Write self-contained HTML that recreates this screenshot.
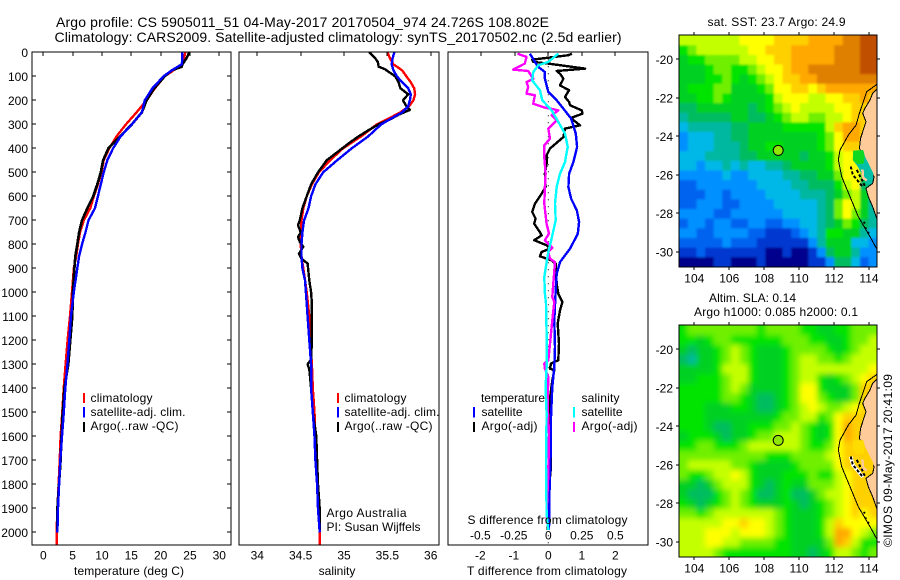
<!DOCTYPE html>
<html lang="en">
<head>
<meta charset="utf-8">
<title>Argo profile</title>
<style>
html,body{margin:0;padding:0;background:#fff;width:900px;height:580px;overflow:hidden}
svg{display:block;font-family:"Liberation Sans",sans-serif;font-size:12px;fill:#000}
text{fill:#000;stroke:none}
.frame{fill:none;stroke:#000;stroke-width:1;shape-rendering:crispEdges}
</style>
</head>
<body>
<svg id="chart" width="900" height="580" viewBox="0 0 900 580" xmlns="http://www.w3.org/2000/svg">
<defs>
<clipPath id="clipT"><rect x="32" y="52" width="199" height="493"/></clipPath>
<clipPath id="clipS"><rect x="239" y="52" width="200" height="493"/></clipPath>
<clipPath id="clipD"><rect x="448" y="52" width="200" height="493"/></clipPath>
<clipPath id="clipM1"><rect x="679" y="35" width="198" height="232"/></clipPath>
<clipPath id="clipM2"><rect x="679" y="325" width="198" height="232"/></clipPath>
<filter id="blur1" x="-5%" y="-5%" width="110%" height="110%"><feGaussianBlur stdDeviation="1"/></filter>
<filter id="blur2" x="-5%" y="-5%" width="110%" height="110%"><feGaussianBlur stdDeviation="3"/></filter>
</defs>

<text x="56" y="27" font-size="14" textLength="493">Argo profile: CS 5905011_51 04-May-2017 20170504_974 24.726S 108.802E</text>
<text x="54.5" y="42" font-size="14" textLength="567">Climatology: CARS2009. Satellite-adjusted climatology: synTS_20170502.nc (2.5d earlier)</text>

<g id="panelT" clip-path="url(#clipT)"></g>
<g id="panelS" clip-path="url(#clipS)"></g>
<g id="panelD" clip-path="url(#clipD)"></g>
<g id="map1cells" clip-path="url(#clipM1)"></g>
<g id="map2cells" clip-path="url(#clipM2)"></g>

<rect class="frame" x="32" y="52" width="199" height="493"/>
<rect class="frame" x="239" y="52" width="200" height="493"/>
<rect class="frame" x="448" y="52" width="200" height="493"/>
<rect class="frame" x="679" y="35" width="198" height="232"/>
<rect class="frame" x="679" y="325" width="198" height="232"/>

<g id="ticks"></g>

<text x="129" y="575" text-anchor="middle" textLength="110">temperature (deg C)</text>
<text x="337" y="575" text-anchor="middle">salinity</text>
<text x="467.5" y="524" textLength="160">S difference from climatology</text>
<text x="467" y="575" textLength="160">T difference from climatology</text>

<g>
<rect x="83" y="393" width="2" height="10" fill="#f00"/>
<rect x="83" y="407" width="2" height="10.5" fill="#00f"/>
<rect x="83" y="422" width="2" height="10" fill="#000"/>
<text x="90.5" y="402" textLength="62">climatology</text>
<text x="90.5" y="416" textLength="95">satellite-adj. clim.</text>
<text x="90.5" y="430" textLength="88">Argo(..raw -QC)</text>
</g>
<g>
<rect x="337" y="393" width="2" height="10" fill="#f00"/>
<rect x="337" y="407" width="2" height="10.5" fill="#00f"/>
<rect x="337" y="422" width="2" height="10" fill="#000"/>
<text x="344.5" y="402" textLength="62">climatology</text>
<text x="344.5" y="416" textLength="95">satellite-adj. clim.</text>
<text x="344.5" y="430" textLength="88">Argo(..raw -QC)</text>
<text x="326.5" y="517" textLength="80">Argo Australia</text>
<text x="326.5" y="531" textLength="94">PI: Susan Wijffels</text>
</g>
<g>
<text x="481" y="402" textLength="64">temperature</text>
<text x="581.5" y="402" textLength="38">salinity</text>
<rect x="473" y="407" width="2" height="10.5" fill="#00f"/>
<rect x="473" y="422" width="2" height="10" fill="#000"/>
<rect x="573" y="407" width="2" height="10.5" fill="#0ff"/>
<rect x="573" y="422" width="2" height="10" fill="#f0f"/>
<text x="481.5" y="416" textLength="41">satellite</text>
<text x="481.5" y="430" textLength="56">Argo(-adj)</text>
<text x="581.5" y="416" textLength="41">satellite</text>
<text x="581.5" y="430" textLength="56">Argo(-adj)</text>
</g>

<text x="707.5" y="26" textLength="138">sat. SST: 23.7 Argo: 24.9</text>
<text x="709" y="302" textLength="87">Altim. SLA: 0.14</text>
<text x="694" y="316" textLength="164">Argo h1000: 0.085 h2000: 0.1</text>
<text transform="translate(892,547) rotate(-90)" textLength="173">©IMOS 09-May-2017 20:41:09</text>

<script>
// ---------- axis tick values ----------
const depthTicks = [0,100,200,300,400,500,600,700,800,900,1000,1100,1200,1300,1400,1500,1600,1700,1800,1900,2000];
const tempTicks = [0,5,10,15,20,25,30];
const salTicks = [34,34.5,35,35.5,36];
const diffTTicks = [-2,-1,0,1,2];
const diffSTicks = [-0.5,-0.25,0,0.25,0.5];
const lonTicks = [104,106,108,110,112,114];
const latTicks = [-20,-22,-24,-26,-28,-30];

// ---------- temperature profiles (depth m, deg C) ----------
const tempDepthClim = [0,25,50,75,100,150,200,250,300,350,400,450,500,550,600,650,700,750,800,850,900,1000,1100,1200,1300,1400,1500,1600,1700,1800,1900,2000,2054];
const tempClim = [24.2,24.0,23.7,22.2,20.7,19.0,17.6,15.9,14.1,12.5,11.25,10.3,9.9,9.3,8.6,8.0,6.9,6.25,5.9,5.6,5.2,4.9,4.55,4.15,3.8,3.47,3.24,2.95,2.8,2.6,2.4,2.27,2.3];
const tempDepthSat = [0,25,50,75,100,150,200,250,300,350,400,450,500,550,600,650,700,750,800,850,900,1000,1100,1200,1300,1400,1500,1600,1700,1800,1900,2000];
const tempSat = [23.7,23.7,23.6,21.9,20.5,18.6,17.3,16.8,15.1,13.2,11.9,10.9,10.3,9.8,9.3,8.8,7.7,7.2,6.6,6.1,5.8,5.2,4.7,4.43,4.1,3.75,3.5,3.18,2.9,2.7,2.5,2.4];
const tempDepthArgo = [0,25,50,60,75,100,150,200,250,300,350,400,450,500,550,600,650,700,750,800,850,900,1000,1100,1200,1300,1400,1500,1600,1700,1800,1900,1990];
const tempArgo = [24.9,24.4,23.7,23.6,21.9,20.7,18.9,17.6,16.8,15.1,13.1,11.1,10.2,9.8,9.2,8.5,7.5,6.6,6.1,5.8,5.45,5.3,5.05,4.95,4.6,4.26,3.6,3.3,3.1,2.95,2.67,2.4,2.4];

// ---------- salinity profiles (depth m, psu) ----------
const salDepthClim = [0,25,50,75,100,125,150,175,200,225,250,275,300,350,400,450,500,550,600,650,700,750,800,850,900,1000,1100,1200,1300,1400,1500,1600,1700,1800,1900,2000,2054];
const salClim = [35.50,35.53,35.57,35.67,35.72,35.77,35.81,35.82,35.80,35.75,35.65,35.52,35.38,35.20,34.99,34.84,34.71,34.63,34.57,34.53,34.51,34.50,34.50,34.51,34.53,34.57,34.60,34.61,34.63,34.64,34.66,34.67,34.69,34.70,34.72,34.72,34.72];
const salDepthSat = [0,25,50,75,100,125,150,175,200,225,250,275,300,350,400,450,500,550,600,650,700,750,800,850,900,950,1000,1100,1200,1300,1400,1500,1600,1700,1800,1900,2000];
const salSat = [35.58,35.56,35.55,35.57,35.61,35.67,35.74,35.77,35.76,35.74,35.67,35.55,35.43,35.28,35.09,34.92,34.76,34.67,34.62,34.59,34.54,34.52,34.51,34.51,34.52,34.55,34.56,34.58,34.60,34.62,34.62,34.64,34.66,34.67,34.69,34.70,34.72];
const salDepthArgo = [0,25,40,60,70,80,100,125,150,175,200,225,240,260,280,300,325,350,375,400,425,450,500,550,600,650,700,720,750,770,790,810,840,860,880,950,1000,1050,1100,1200,1280,1300,1320,1400,1500,1600,1700,1800,1900,1990];
const salArgo = [35.29,35.36,35.39,35.40,35.47,35.51,35.59,35.63,35.65,35.74,35.68,35.72,35.76,35.63,35.53,35.40,35.28,35.17,35.07,34.98,34.89,34.80,34.70,34.62,34.57,34.52,34.49,34.47,34.50,34.47,34.49,34.53,34.48,34.51,34.58,34.60,34.62,34.63,34.63,34.63,34.62,34.58,34.60,34.62,34.64,34.68,34.69,34.70,34.72,34.72];

// ---------- differences from climatology ----------
const diffTDepthSat = [6,40,61,82,110,165,200,235,276,339,394,457,506,561,610,658,707,756,818,874,922,992,1117,1228,1311,1394,1520,1631,1811,1990];
const diffTSat = [-.55,-.4,-.3,-.1,-.1,0,.25,.45,.68,.82,.86,.75,.62,.6,.68,.85,.92,.88,.65,.35,.25,.22,.18,.2,.18,.12,.08,.08,.04,.02];
const diffTDepthArgo = [6,12,31,40,47,68,78,89,110,138,158,186,207,221,242,256,272,283,304,318,353,401,429,464,506,561,589,631,665,693,714,749,763,783,804,818,832,850,867,881,964,1006,1040,1075,1130,1214,1283,1297,1318,1325,1367,1408,1478,1520,1590,1728,1797,1894,1990];
const diffTArgo = [.7,.6,-.48,-.45,0,1.1,.25,.35,.45,.35,.62,.5,.62,.65,1.0,1.02,.7,.75,.95,.5,.45,.05,-.05,-.05,-.1,-.08,-.2,-.4,-.48,-.38,-.42,-.25,-.2,-.42,-.05,.05,-.2,-.25,.1,.22,.25,.3,.42,.35,.28,.32,.3,.08,.05,.18,.12,.08,.02,.05,.08,.08,.03,.02,-.02];
const diffSDepthSat = [6,40,54,82,117,158,200,242,290,339,394,457,506,561,631,700,776,832,936,1006,1047,1172,1311,1394,1506,1714,1922,1990];
const diffSSat = [.075,0,-.075,-.1125,-.12,-.0625,-.045,.025,.075,.125,.145,.125,.0875,.0625,.05,.055,.025,0,-.03,-.025,-.0175,-.0125,-.0125,-.02,-.0125,-.0175,-.0125,0];
const diffSDepthArgo = [6,19,47,72,78,110,124,144,172,179,214,231,235,242,262,283,318,360,388,436,506,561,631,714,756,783,814,832,860,874,964,1019,1040,1117,1214,1283,1297,1318,1353,1464,1590,1756,1922,1964];
const diffSArgo = [-.23,-.1625,-.175,-.2625,-.15,-.1125,-.1625,-.15,-.1625,-.1,-.1125,-.025,.02,.075,.025,.0625,0,.0125,-.03,-.03,-.02,-.025,-.03,-.0125,.005,-.025,.03,0,.0125,.05,.0375,.03,.045,.03,.0125,0,-.03,-.025,0,-.005,.005,0,-.0125,-.0125];

// ---------- map values: colour level per half-degree cell, north to south ----------
const sstGrid = [
[10,10,10,10,10,10,10,11,11,11,11,12,12,12,12,13,13,13,13,14,14,15,15],
[8,9,10,10,10,10,10,10,11,11,12,12,12,13,13,13,13,13,14,14,14,15,15],
[7,8,8,9,9,9,9,10,10,11,11,12,12,13,13,13,13,13,14,14,14,15,15],
[7,7,7,8,9,9,8,8,9,10,11,11,12,13,13,14,14,14,14,14,14,15,15],
[7,7,7,8,8,9,8,7,8,9,10,11,12,12,13,13,14,14,14,14,14,14,14],
[7,8,8,8,9,9,7,7,7,8,9,11,11,12,12,11,12,13,13,13,13,13,13],
[7,7,8,8,9,8,7,7,7,7,8,10,11,11,11,10,10,11,11,12,12,13,12],
[6,6,7,7,7,7,7,7,6,7,8,9,10,11,10,10,10,10,11,11,12,12,12],
[5,6,6,6,6,6,7,7,6,6,7,8,9,10,10,9,9,10,10,11,12,12,12],
[4,5,5,5,5,5,6,6,7,7,7,7,8,8,8,8,8,10,12,13,13,12,12],
[3,4,4,4,5,5,6,6,7,7,7,7,7,7,7,7,8,9,11,13,13,12,12],
[3,4,4,4,5,5,5,6,7,7,8,8,7,7,7,7,8,9,11,12,12,11,12],
[4,4,4,5,5,5,5,6,6,7,7,7,7,7,6,7,7,8,10,11,11,8,6],
[4,4,3,4,4,5,4,5,4,4,5,5,6,7,7,7,7,8,10,11,11,7,5],
[3,3,3,3,3,4,3,3,4,4,4,4,5,5,6,6,7,7,9,11,11,7,5],
[2,2,3,3,3,3,3,3,3,4,4,4,4,5,5,6,6,6,8,10,11,6,5],
[2,2,2,3,3,2,3,3,3,3,4,4,4,4,5,5,5,6,7,9,10,7,7],
[2,2,3,3,3,2,2,3,3,3,3,4,4,4,4,4,5,6,9,11,10,7,5],
[3,3,3,3,2,2,3,3,3,3,3,3,4,4,4,4,5,6,9,11,9,7,5],
[2,3,3,2,3,3,2,2,3,3,2,2,3,3,4,4,5,6,7,9,8,6,5],
[3,3,2,2,3,3,3,3,2,2,1,1,1,2,3,4,5,8,8,7,7,5,4],
[2,2,2,2,2,3,2,2,2,1,1,1,1,1,1,3,5,7,7,7,4,4,3],
[1,1,2,1,1,1,1,1,1,1,0,0,1,0,0,1,3,6,7,7,5,3,3],
[0,0,0,0,1,1,0,0,0,1,0,0,0,0,0,1,1,3,6,6,4,2,3]
];
const slaGrid = [
[8,9,9,9,9,9,9,9,9,8,9,9,9,9,8,8,7,7,8,8,9,9,9],
[8,8,7,8,9,9,8,8,8,8,8,8,9,9,9,8,8,7,7,8,9,9,10],
[7,6,7,7,8,9,10,9,8,7,7,7,8,9,9,9,9,8,7,8,9,10,10],
[6,5,7,7,8,9,10,9,8,7,7,7,8,9,10,10,9,9,8,9,10,10,10],
[7,7,7,7,8,10,10,10,8,7,7,7,8,9,10,10,10,10,10,10,10,10,11],
[7,7,8,8,8,9,10,10,8,7,7,7,8,9,10,10,8,7,8,9,10,11,12],
[8,8,8,8,8,9,10,9,7,7,7,7,8,9,11,11,8,7,7,7,9,12,12],
[8,8,8,8,8,9,9,8,7,6,6,7,8,9,11,11,9,8,7,7,9,12,12],
[8,8,8,7,7,7,8,8,7,6,6,7,8,9,10,11,10,9,9,10,11,12,12],
[8,8,8,7,7,7,7,7,7,7,7,8,9,9,10,10,8,9,11,12,12,12,12],
[8,8,8,7,6,6,7,7,8,8,8,9,9,10,9,8,7,8,11,13,12,12,12],
[7,8,8,8,7,6,7,7,8,9,9,10,10,10,9,8,7,8,11,13,12,12,12],
[8,8,9,9,8,8,8,9,10,10,10,10,10,10,9,8,8,9,11,12,12,12,12],
[9,9,9,9,9,9,9,9,9,9,8,8,8,9,9,9,9,10,11,12,12,11,12],
[9,10,10,10,10,10,9,9,8,7,7,7,7,8,9,9,9,9,11,12,12,12,12],
[9,8,8,9,10,10,11,10,8,7,7,7,8,8,8,9,8,8,10,11,12,12,12],
[7,7,6,7,9,10,10,10,8,7,6,7,8,7,7,9,9,9,10,11,12,12,12],
[7,6,6,6,8,9,10,9,8,6,6,7,8,6,6,7,9,10,10,11,12,12,12],
[8,7,6,7,8,9,10,9,8,7,7,7,8,7,6,7,8,9,10,11,12,12,12],
[9,9,8,9,10,10,10,10,10,10,10,9,8,7,7,7,8,9,10,11,12,11,12],
[10,10,10,10,10,11,11,12,11,11,10,9,8,7,7,7,8,10,12,11,11,11,11],
[10,10,10,11,11,11,10,11,11,11,10,9,8,7,7,7,8,10,13,13,11,10,9],
[10,10,10,11,11,10,10,9,9,9,9,8,8,7,7,7,7,9,13,12,10,8,8],
[10,10,10,10,9,8,8,8,8,8,8,8,8,7,7,6,7,8,10,10,9,8,9]
];
const profileLon = [108.802];
const profileLat = [-24.726];

// geography (lon / lat)
const contourLon = [114.48,113.87,113.45,113.26,112.82,112.34,112.24,112.44,112.91,113.39,114.06,114.48];
const contourLat = [-21.28,-21.68,-22.80,-23.41,-23.93,-24.71,-25.22,-26.09,-27.13,-28.17,-29.2,-29.9];
const coastLon = [114.48,114.21,114.06,113.77,113.64,113.83,113.52,113.45,113.68,113.96,114.29,114.21,113.83,113.96,114.21,114.44,114.48];
const coastLat = [-21.52,-21.76,-22.11,-22.54,-22.80,-23.24,-24.10,-24.62,-25.05,-25.66,-26.09,-26.44,-26.70,-27.13,-27.65,-28.25,-28.37];
const bayLon = [113.10,113.67,113.77,114.25,114.15,113.87,113.58,113.30,113.07];
const bayLat = [-24.74,-24.71,-25.05,-25.92,-26.43,-26.52,-25.92,-25.49,-25.23];
const bayNorthLon = [113.10,113.67,113.75,113.70,113.35,113.07];
const bayNorthLat = [-24.74,-24.71,-25.05,-25.40,-25.45,-25.23];
const fingerLon = [113.62,113.66,113.87];
const fingerLat = [-25.72,-26.14,-26.30];
const islandLon = [112.95,113.08,113.37,113.65];
const islandLat = [-25.57,-26.0,-26.32,-26.63];
const island2Lon = [113.30,113.6,113.76];
const island2Lat = [-25.74,-26.26,-26.57];
const isletLon = [113.73,113.81,113.96];
const isletLat = [-28.48,-28.77,-29.0];

// ---------- axis functions ----------
const yDepth = d => 52.3 + 0.24 * d;
const xTemp = t => 43.3 + 5.867 * t;
const xSal = s => 257.3 + 86.7 * (s - 34);
const xDiffT = v => 548.3 + 33.5 * v;
const xDiffS = v => 548.3 + 134 * v;
const xLon = lon => 694.3 + 17.47 * (lon - 104);
const yLat1 = lat => 59.3 - 19.27 * (lat + 20);
const yLat2 = lat => 349.3 - 19.27 * (lat + 20);

const NS = 'http://www.w3.org/2000/svg';
const palette = ['#00008c','#0038d0','#0064f0','#0090ff','#00b8e8','#00b8a0','#00bc60','#00d020','#00e400','#70f000','#c4ff00','#ffff00','#ffd000','#ffa800','#e08000','#c05000'];
const levelColor = v => palette[Math.max(0, Math.min(15, Math.round(v)))];

function svgEl(tag, parent) {
  const el = document.createElementNS(NS, tag);
  parent.appendChild(el);
  return el;
}
function profileLine(parent, depths, values, xFn, color, width) {
  const el = svgEl('path', parent);
  el.setAttribute('d', values.map((v, i) => (i ? 'L' : 'M') + xFn(v).toFixed(1) + ' ' + yDepth(depths[i]).toFixed(1)).join(''));
  el.setAttribute('fill', 'none');
  el.setAttribute('stroke', color);
  el.setAttribute('stroke-width', width);
  el.setAttribute('stroke-linejoin', 'round');
  el.setAttribute('shape-rendering', 'crispEdges');
  return el;
}
function tickLine(x1, y1, x2, y2) {
  const el = svgEl('line', document.getElementById('ticks'));
  el.setAttribute('x1', x1);
  el.setAttribute('y1', y1);
  el.setAttribute('x2', x2);
  el.setAttribute('y2', y2);
  el.setAttribute('stroke', '#000');
  el.setAttribute('shape-rendering', 'crispEdges');
  return el;
}
function tickText(x, y, anchor, str) {
  const el = svgEl('text', document.getElementById('ticks'));
  el.setAttribute('x', x);
  el.setAttribute('y', y);
  el.setAttribute('text-anchor', anchor);
  el.textContent = str;
  return el;
}

// ---------- profile lines ----------
const pT = document.getElementById('panelT');
let ln = profileLine(pT, tempDepthClim, tempClim, xTemp, '#f00', 2.4);


ln = profileLine(pT, tempDepthArgo, tempArgo, xTemp, '#000', 2.6);


ln = profileLine(pT, tempDepthSat, tempSat, xTemp, '#00f', 2.4);



const pS = document.getElementById('panelS');
ln = profileLine(pS, salDepthClim, salClim, xSal, '#f00', 2.4);


ln = profileLine(pS, salDepthArgo, salArgo, xSal, '#000', 2.4);


ln = profileLine(pS, salDepthSat, salSat, xSal, '#00f', 2.4);



const pD = document.getElementById('panelD');
const zero = svgEl('line', pD);
zero.setAttribute('x1', xDiffT(0));
zero.setAttribute('x2', xDiffT(0));
zero.setAttribute('y1', yDepth(0));
zero.setAttribute('y2', yDepth(2054));
zero.setAttribute('stroke', '#000');
zero.setAttribute('stroke-dasharray', '1 6');


ln = profileLine(pD, diffTDepthArgo, diffTArgo, xDiffT, '#000', 2.4);


ln = profileLine(pD, diffTDepthSat, diffTSat, xDiffT, '#00f', 2.4);


ln = profileLine(pD, diffSDepthArgo, diffSArgo, xDiffS, '#f0f', 2.4);


ln = profileLine(pD, diffSDepthSat, diffSSat, xDiffS, '#0ff', 2.4);



// ---------- ticks ----------
depthTicks.forEach(d => {
  let t = tickLine(32, Math.round(yDepth(d)), 36, Math.round(yDepth(d)));
  
  
  t = tickLine(227, Math.round(yDepth(d)), 231, Math.round(yDepth(d)));
  
  
  const l = tickText(28, yDepth(d) + 4.5, 'end', String(d));
  
  
});
tempTicks.forEach(v => {
  const t = tickLine(Math.round(xTemp(v)), 52, Math.round(xTemp(v)), 56);
  
  
  const l = tickText(xTemp(v), 559.5, 'middle', String(v));
  
  
});
salTicks.forEach(v => {
  const t = tickLine(Math.round(xSal(v)), 52, Math.round(xSal(v)), 56);
  
  
  const l = tickText(xSal(v), 559.5, 'middle', String(v));
  
  
});
diffTTicks.forEach(v => {
  const t = tickLine(Math.round(xDiffT(v)), 52, Math.round(xDiffT(v)), 56);
  
  
  const l = tickText(xDiffT(v) - (v < 0 ? 1 : 0), 559.5, 'middle', String(v));
  
  
});
diffSTicks.forEach(v => {
  const l = tickText(xDiffS(v) - (v < 0 ? 1 : 0), 539.5, 'middle', String(v));
  
  
});
[[yLat1, 35, 267], [yLat2, 325, 557]].forEach(([yFn, top, bot]) => {
  lonTicks.forEach(v => {
    const px = Math.round(xLon(v));
    let t = tickLine(px, top - 3, px, top);
    
    
    t = tickLine(px, bot, px, bot + 3);
    
    
    const l = tickText(xLon(v), bot + 15.5, 'middle', String(v));
    
    
  });
  latTicks.forEach(v => {
    const py = Math.round(yFn(v));
    let t = tickLine(676, py, 679, py);
    
    
    t = tickLine(877, py, 880, py);
    
    
    const l = tickText(673, yFn(v) + 4.5, 'end', String(v));
    
    
  });
});

// ---------- maps ----------
const lonStart = 103.14, lonStep = 0.4926, latStart = -18.77, latStep = 0.5;
function drawCells(group, grid, yFn, filterId) {
  const inner = svgEl('g', group);
  inner.setAttribute('filter', 'url(#' + filterId + ')');
  grid.forEach((row, r) => {
    row.forEach((v, c) => {
      let x0 = xLon(lonStart + c * lonStep), x1 = xLon(lonStart + (c + 1) * lonStep) + 0.5;
      let y0 = yFn(latStart - r * latStep), y1 = yFn(latStart - (r + 1) * latStep) + 0.5;
      if (c === 0) x0 -= 12;
      if (c === row.length - 1) x1 += 12;
      if (r === 0) y0 -= 12;
      if (r === grid.length - 1) y1 += 12;
      const cell = svgEl('rect', inner);
      cell.setAttribute('x', x0.toFixed(2));
      cell.setAttribute('y', y0.toFixed(2));
      cell.setAttribute('width', (x1 - x0).toFixed(2));
      cell.setAttribute('height', (y1 - y0).toFixed(2));
      cell.setAttribute('fill', levelColor(v));
      
      
    });
  });
}
function geoPoints(lons, lats, yFn) {
  return lons.map((v, i) => xLon(v).toFixed(1) + ',' + yFn(lats[i]).toFixed(1)).join(' ');
}
function geoLine(group, lons, lats, yFn, color, width, dash) {
  const el = svgEl('polyline', group);
  el.setAttribute('points', geoPoints(lons, lats, yFn));
  el.setAttribute('fill', 'none');
  el.setAttribute('stroke', color);
  el.setAttribute('stroke-width', width);
  if (dash) el.setAttribute('stroke-dasharray', dash);
  el.setAttribute('shape-rendering', 'crispEdges');
  return el;
}
function drawGeo(group, yFn, bayFill, bayNorthFill, islandHalo) {
  const land = svgEl('polygon', group);
  land.setAttribute('points', geoPoints(coastLon, coastLat, yFn));
  land.setAttribute('fill', '#ffcc99');
  land.setAttribute('stroke', '#000');
  land.setAttribute('shape-rendering', 'crispEdges');
  
  
  const bay = svgEl('polygon', group);
  bay.setAttribute('points', geoPoints(bayLon, bayLat, yFn));
  bay.setAttribute('fill', bayFill);
  
  
  const north = svgEl('polygon', group);
  north.setAttribute('points', geoPoints(bayNorthLon, bayNorthLat, yFn));
  north.setAttribute('fill', bayNorthFill);
  
  
  const finger = geoLine(group, fingerLon, fingerLat, yFn, '#ffcc99', 2.5);
  
  
  if (islandHalo) {
    const halo = geoLine(group, islandLon, islandLat, yFn, '#fff', 3.5);
    
    
  }
  const isl1 = geoLine(group, islandLon, islandLat, yFn, '#000', 2, '3 2');
  
  
  const isl2 = geoLine(group, island2Lon, island2Lat, yFn, '#000', 2, '3 2');
  
  
  const contour = geoLine(group, contourLon, contourLat, yFn, '#000', 1);
  
  
  isletLon.forEach((v, i) => {
    const dot = svgEl('circle', group);
    dot.setAttribute('cx', xLon(v).toFixed(1));
    dot.setAttribute('cy', yFn(isletLat[i]).toFixed(1));
    dot.setAttribute('r', 1.1);
    dot.setAttribute('fill', '#000');
    
    
  });
  const pt = svgEl('circle', group);
  pt.setAttribute('cx', xLon(profileLon[0]).toFixed(1));
  pt.setAttribute('cy', yFn(profileLat[0]).toFixed(1));
  pt.setAttribute('r', 5);
  pt.setAttribute('fill', '#90e800');
  pt.setAttribute('stroke', '#000');
  
  
}
const m1 = document.getElementById('map1cells');
const m2 = document.getElementById('map2cells');
drawCells(m1, sstGrid, yLat1, 'blur1');
drawGeo(m1, yLat1, '#00c0a8', '#10d820', false);
drawCells(m2, slaGrid, yLat2, 'blur2');
drawGeo(m2, yLat2, '#ffd000', '#ffdc00', true);
</script>
</svg>
</body>
</html>
